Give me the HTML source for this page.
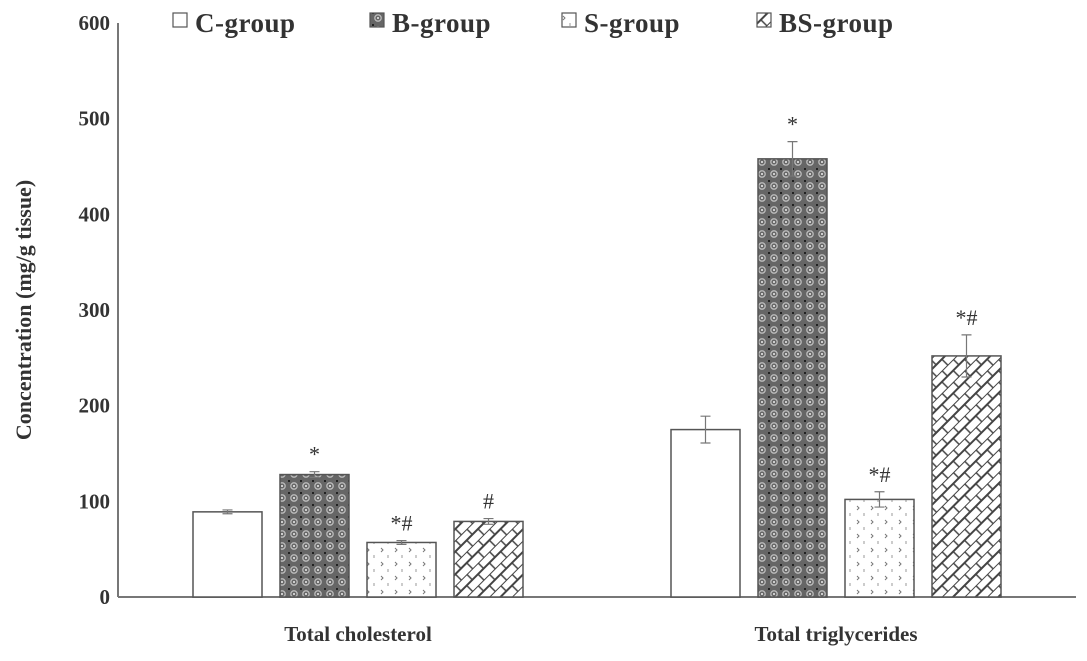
<!DOCTYPE html>
<html><head><meta charset="utf-8"><style>
html,body{margin:0;padding:0;background:#fff;}
svg{display:block;font-family:"Liberation Serif",serif;font-weight:bold;}
</style></head><body>
<svg id="chart" width="1087" height="661">
<defs>
<pattern id="pB" width="12" height="12" patternUnits="userSpaceOnUse">
<rect width="12" height="12" fill="#666"/>
<circle cx="6" cy="6" r="3.2" fill="none" stroke="#bbb" stroke-width="1.3"/>
<circle cx="6" cy="6" r="1" fill="#eee"/>
<rect x="0" y="0" width="2" height="2" fill="#222"/>
</pattern>
<pattern id="pS" width="14" height="14" patternUnits="userSpaceOnUse">
<rect width="14" height="14" fill="#fff"/>
<path d="M3 2 L5 4 L3 6" fill="none" stroke="#777" stroke-width="1"/>
<path d="M10 9 L10 12" stroke="#999" stroke-width="1"/>
</pattern>
<pattern id="pBS" width="16" height="16" patternUnits="userSpaceOnUse" patternTransform="rotate(-45)">
<rect width="16" height="16" fill="#fff"/>
<line x1="0" y1="0" x2="16" y2="0" stroke="#444" stroke-width="2"/>
<line x1="0" y1="8" x2="16" y2="8" stroke="#444" stroke-width="2"/>
<line x1="4" y1="0" x2="4" y2="8" stroke="#444" stroke-width="1.5"/>
<line x1="12" y1="8" x2="12" y2="16" stroke="#444" stroke-width="1.5"/>
</pattern>
</defs>
<g id="axes"></g><g id="bars"></g><g id="legend"></g>
</svg>
<script>
const categories=["Total cholesterol","Total triglycerides"];
const groups=["C-group","B-group","S-group","BS-group"];
const cValues=[89,175];
const bValues=[128,458];
const sValues=[57,102];
const bsValues=[79,252];
const cErr=[2,14];
const bErr=[3,18];
const sErr=[2,8];
const bsErr=[3,22];
const marks=[["",""],["*","*"],["*#","*#"],["#","*#"]];
const yTicks=[0,100,200,300,400,500,600];

const NS="http://www.w3.org/2000/svg";
const y0=597,yTop=23,yMax=600;
const yS=v=>y0-(v/yMax)*(y0-yTop);
const groupStart=[193,671],barW=69,step=87;
const xS=(c,g)=>groupStart[c]+g*step;
function mk(tag,attrs,parent,text){const e=document.createElementNS(NS,tag);for(const k in attrs)e.setAttribute(k,attrs[k]);if(text!==undefined)e.textContent=text;parent.appendChild(e);return e;}
const axes=document.getElementById('axes'),bars=document.getElementById('bars'),leg=document.getElementById('legend');
let e;
e=mk('line',{x1:118,y1:yTop,x2:118,y2:y0,stroke:'#777','stroke-width':2},axes);


e=mk('line',{x1:118,y1:y0,x2:1076,y2:y0,stroke:'#777','stroke-width':2},axes);


yTicks.forEach(t=>{e=mk('text',{x:110,y:yS(t)+7,'text-anchor':'end','font-size':21,fill:'#333'},axes,String(t));

});
e=mk('text',{x:0,y:0,transform:'translate(31,310) rotate(-90)','text-anchor':'middle','font-size':22,fill:'#333'},axes,'Concentration (mg/g tissue)');


categories.forEach((c,i)=>{e=mk('text',{x:xS(i,0)+(3*step+barW)/2,y:641,'text-anchor':'middle','font-size':21,fill:'#333'},axes,c);

});
const vals=[cValues,bValues,sValues,bsValues],errs=[cErr,bErr,sErr,bsErr],fills=['#fff','url(#pB)','url(#pS)','url(#pBS)'];
categories.forEach((c,ci)=>{groups.forEach((g,gi)=>{
const v=vals[gi][ci],x=xS(ci,gi),top=yS(v),er=errs[gi][ci];
e=mk('rect',{x:x,y:top,width:barW,height:y0-top,fill:fills[gi],stroke:'#555','stroke-width':1.5},bars);


const cx=x+barW/2;
e=mk('path',{d:`M${cx} ${yS(v+er)}V${yS(v-er)}M${cx-5} ${yS(v+er)}H${cx+5}M${cx-5} ${yS(v-er)}H${cx+5}`,stroke:'#777','stroke-width':1.2,fill:'none'},bars);


const m=marks[gi][ci];
if(m){e=mk('text',{x:cx,y:yS(v+er)-10,'text-anchor':'middle','font-size':22,'font-weight':'normal',fill:'#333'},bars,m);

}
});});
const legX=[173,370,562,757];
groups.forEach((g,i)=>{
e=mk('rect',{x:legX[i],y:13,width:14,height:14,fill:fills[i],stroke:'#555','stroke-width':1.2},leg);


e=mk('text',{x:legX[i]+22,y:32,'font-size':27,'letter-spacing':'0.5',fill:'#333'},leg,g);


});
</script>
</body></html>
